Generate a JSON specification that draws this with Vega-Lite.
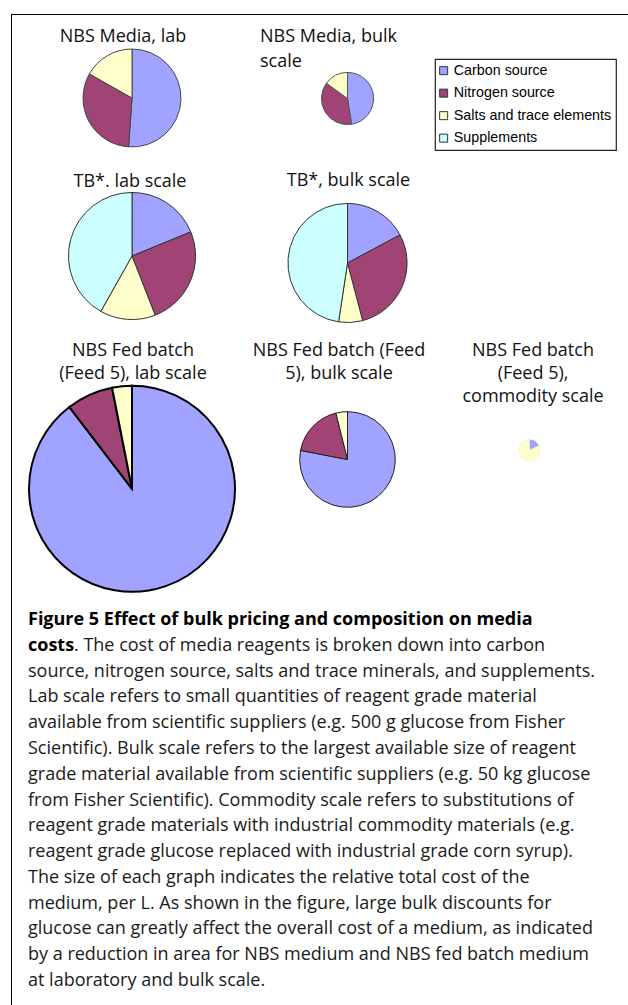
{
  "$schema": "https://vega.github.io/schema/vega-lite/v6.json",
  "padding": {"left": 11, "top": 14, "right": 0, "bottom": 0},
  "background": "white",
  "datasets": {
    "pies": [
      {"medium": "NBS Media", "level": "lab", "component": "Carbon source", "cost": 1.226},
      {"medium": "NBS Media", "level": "lab", "component": "Nitrogen source", "cost": 0.770},
      {"medium": "NBS Media", "level": "lab", "component": "Salts and trace elements", "cost": 0.403},
      {"medium": "NBS Media", "level": "bulk", "component": "Carbon source", "cost": 0.323},
      {"medium": "NBS Media", "level": "bulk", "component": "Nitrogen source", "cost": 0.255},
      {"medium": "NBS Media", "level": "bulk", "component": "Salts and trace elements", "cost": 0.102},
      {"medium": "TB*", "level": "lab", "component": "Carbon source", "cost": 0.76},
      {"medium": "TB*", "level": "lab", "component": "Nitrogen source", "cost": 1.02},
      {"medium": "TB*", "level": "lab", "component": "Salts and trace elements", "cost": 0.57},
      {"medium": "TB*", "level": "lab", "component": "Supplements", "cost": 1.69},
      {"medium": "TB*", "level": "bulk", "component": "Carbon source", "cost": 0.61},
      {"medium": "TB*", "level": "bulk", "component": "Nitrogen source", "cost": 1.02},
      {"medium": "TB*", "level": "bulk", "component": "Salts and trace elements", "cost": 0.23},
      {"medium": "TB*", "level": "bulk", "component": "Supplements", "cost": 1.69},
      {"medium": "NBS Fed batch (Feed 5)", "level": "lab", "component": "Carbon source", "cost": 9.51},
      {"medium": "NBS Fed batch (Feed 5)", "level": "lab", "component": "Nitrogen source", "cost": 0.775},
      {"medium": "NBS Fed batch (Feed 5)", "level": "lab", "component": "Salts and trace elements", "cost": 0.329},
      {"medium": "NBS Fed batch (Feed 5)", "level": "bulk", "component": "Carbon source", "cost": 1.786},
      {"medium": "NBS Fed batch (Feed 5)", "level": "bulk", "component": "Nitrogen source", "cost": 0.414},
      {"medium": "NBS Fed batch (Feed 5)", "level": "bulk", "component": "Salts and trace elements", "cost": 0.089},
      {"medium": "NBS Fed batch (Feed 5)", "level": "commodity", "component": "Carbon source", "cost": 0.02},
      {"medium": "NBS Fed batch (Feed 5)", "level": "commodity", "component": "Salts and trace elements", "cost": 0.089}
    ],
    "caption": [
      {"line": 1, "part": "bold", "text": "Figure 5 Effect of bulk pricing and composition on media"},
      {"line": 2, "part": "bold", "text": "costs"},
      {"line": 2, "part": "cont", "text": ". The cost of media reagents is broken down into carbon"},
      {"line": 3, "part": "normal", "text": "source, nitrogen source, salts and trace minerals, and supplements."},
      {"line": 4, "part": "normal", "text": "Lab scale refers to small quantities of reagent grade material"},
      {"line": 5, "part": "normal", "text": "available from scientific suppliers (e.g. 500 g glucose from Fisher"},
      {"line": 6, "part": "normal", "text": "Scientific). Bulk scale refers to the largest available size of reagent"},
      {"line": 7, "part": "normal", "text": "grade material available from scientific suppliers (e.g. 50 kg glucose"},
      {"line": 8, "part": "normal", "text": "from Fisher Scientific). Commodity scale refers to substitutions of"},
      {"line": 9, "part": "normal", "text": "reagent grade materials with industrial commodity materials (e.g."},
      {"line": 10, "part": "normal", "text": "reagent grade glucose replaced with industrial grade corn syrup)."},
      {"line": 11, "part": "normal", "text": "The size of each graph indicates the relative total cost of the"},
      {"line": 12, "part": "normal", "text": "medium, per L. As shown in the figure, large bulk discounts for"},
      {"line": 13, "part": "normal", "text": "glucose can greatly affect the overall cost of a medium, as indicated"},
      {"line": 14, "part": "normal", "text": "by a reduction in area for NBS medium and NBS fed batch medium"},
      {"line": 15, "part": "normal", "text": "at laboratory and bulk scale."}
    ]
  },
  "spacing": 0,
  "resolve": {"scale": {"theta": "independent"}},
  "hconcat": [
    {
      "width": 1, "height": 991,
      "view": {"fill": "#000", "stroke": null},
      "data": {"values": []},
      "mark": "text"
    },
    {
      "spacing": 0,
      "resolve": {"scale": {"theta": "independent"}},
      "vconcat": [
        {
          "width": 616, "height": 1,
          "view": {"fill": "#000", "stroke": null},
          "data": {"values": []},
          "mark": "text"
        },
        {
          "spacing": 0,
          "resolve": {"scale": {"theta": "independent"}},
          "hconcat": [
            {
              "spacing": 0,
              "bounds": "flush",
              "resolve": {"scale": {"theta": "independent"}},
              "vconcat": [
                {
                  "width": 240, "height": 166,
                  "title": {"text": "NBS Media, lab", "anchor": "middle", "frame": "group", "offset": -31.4, "dx": -9, "font": "Open Sans", "fontSize": 18, "fontWeight": "normal", "color": "#111", "lineHeight": 23},
                  "data": {"name": "pies"},
                  "transform": [{"filter": "datum.medium === 'NBS Media' && datum.level === 'lab'"}, {"joinaggregate": [{"op": "sum", "field": "cost", "as": "total"}]}],
                  "mark": {"type": "arc", "stroke": "#444", "strokeWidth": 1},
                  "encoding": {
                    "theta": {"field": "cost", "type": "quantitative", "stack": true},
                    "radius": {"field": "total", "type": "quantitative", "scale": {"type": "sqrt", "zero": true, "domain": [0, 10.614], "range": [0, 103]}},
                    "color": {"field": "component", "type": "nominal", "scale": {"domain": ["Carbon source", "Nitrogen source", "Salts and trace elements", "Supplements"], "range": ["#A0A3FF", "#9F4474", "#FFFFCC", "#CCFFFF"]}, "legend": {"orient": "none", "legendX": 424, "legendY": 45, "title": null}},
                    "order": {"field": "component", "type": "ordinal"}
                  }
                },
                {
                  "width": 240, "height": 150,
                  "title": {"text": "TB*. lab scale", "anchor": "middle", "frame": "group", "offset": -10.1, "dx": -2, "font": "Open Sans", "fontSize": 18, "fontWeight": "normal", "color": "#111", "lineHeight": 23},
                  "data": {"name": "pies"},
                  "transform": [{"filter": "datum.medium === 'TB*' && datum.level === 'lab'"}, {"joinaggregate": [{"op": "sum", "field": "cost", "as": "total"}]}],
                  "mark": {"type": "arc", "stroke": "#333", "strokeWidth": 1},
                  "encoding": {
                    "theta": {"field": "cost", "type": "quantitative", "stack": true},
                    "radius": {"field": "total", "type": "quantitative", "scale": {"type": "sqrt", "zero": true, "domain": [0, 10.614], "range": [0, 103]}},
                    "color": {"field": "component", "type": "nominal", "scale": {"domain": ["Carbon source", "Nitrogen source", "Salts and trace elements", "Supplements"], "range": ["#A0A3FF", "#9F4474", "#FFFFCC", "#CCFFFF"]}, "legend": {"orient": "none", "legendX": 424, "legendY": 45, "title": null}},
                    "order": {"field": "component", "type": "ordinal"}
                  }
                },
                {
                  "width": 240, "height": 49,
                  "data": {"values": []},
                  "mark": "text"
                },
                {
                  "width": 240, "height": 217.6,
                  "title": {"text": ["NBS Fed batch", "(Feed 5), lab scale"], "anchor": "middle", "frame": "group", "offset": -3.4, "dx": 1, "font": "Open Sans", "fontSize": 18, "fontWeight": "normal", "color": "#111", "lineHeight": 23},
                  "data": {"name": "pies"},
                  "transform": [{"filter": "datum.medium === 'NBS Fed batch (Feed 5)' && datum.level === 'lab'"}, {"joinaggregate": [{"op": "sum", "field": "cost", "as": "total"}]}],
                  "mark": {"type": "arc", "stroke": "#000", "strokeWidth": 2},
                  "encoding": {
                    "theta": {"field": "cost", "type": "quantitative", "stack": true},
                    "radius": {"field": "total", "type": "quantitative", "scale": {"type": "sqrt", "zero": true, "domain": [0, 10.614], "range": [0, 103]}},
                    "color": {"field": "component", "type": "nominal", "scale": {"domain": ["Carbon source", "Nitrogen source", "Salts and trace elements", "Supplements"], "range": ["#A0A3FF", "#9F4474", "#FFFFCC", "#CCFFFF"]}, "legend": {"orient": "none", "legendX": 424, "legendY": 45, "title": null}},
                    "order": {"field": "component", "type": "ordinal"}
                  }
                }
              ]
            },
            {
              "spacing": 0,
              "bounds": "flush",
              "resolve": {"scale": {"theta": "independent"}},
              "vconcat": [
                {
                  "width": 191, "height": 167,
                  "title": {"text": ["NBS Media, bulk", "scale"], "anchor": "start", "align": "left", "frame": "group", "offset": -56.4, "dx": 8, "font": "Open Sans", "fontSize": 18, "fontWeight": "normal", "color": "#111", "lineHeight": 25},
                  "data": {"name": "pies"},
                  "transform": [{"filter": "datum.medium === 'NBS Media' && datum.level === 'bulk'"}, {"joinaggregate": [{"op": "sum", "field": "cost", "as": "total"}]}],
                  "mark": {"type": "arc", "stroke": "#555", "strokeWidth": 1},
                  "encoding": {
                    "theta": {"field": "cost", "type": "quantitative", "stack": true},
                    "radius": {"field": "total", "type": "quantitative", "scale": {"type": "sqrt", "zero": true, "domain": [0, 10.614], "range": [0, 103]}},
                    "color": {"field": "component", "type": "nominal", "scale": {"domain": ["Carbon source", "Nitrogen source", "Salts and trace elements", "Supplements"], "range": ["#A0A3FF", "#9F4474", "#FFFFCC", "#CCFFFF"]}, "legend": {"orient": "none", "legendX": 424, "legendY": 45, "title": null}},
                    "order": {"field": "component", "type": "ordinal"}
                  }
                },
                {
                  "width": 191, "height": 162,
                  "title": {"text": "TB*, bulk scale", "anchor": "middle", "frame": "group", "offset": -8.1, "dx": 1, "font": "Open Sans", "fontSize": 18, "fontWeight": "normal", "color": "#111", "lineHeight": 23},
                  "data": {"name": "pies"},
                  "transform": [{"filter": "datum.medium === 'TB*' && datum.level === 'bulk'"}, {"joinaggregate": [{"op": "sum", "field": "cost", "as": "total"}]}],
                  "mark": {"type": "arc", "stroke": "#333", "strokeWidth": 1},
                  "encoding": {
                    "theta": {"field": "cost", "type": "quantitative", "stack": true},
                    "radius": {"field": "total", "type": "quantitative", "scale": {"type": "sqrt", "zero": true, "domain": [0, 10.614], "range": [0, 103]}},
                    "color": {"field": "component", "type": "nominal", "scale": {"domain": ["Carbon source", "Nitrogen source", "Salts and trace elements", "Supplements"], "range": ["#A0A3FF", "#9F4474", "#FFFFCC", "#CCFFFF"]}, "legend": {"orient": "none", "legendX": 424, "legendY": 45, "title": null}},
                    "order": {"field": "component", "type": "ordinal"}
                  }
                },
                {
                  "width": 191, "height": 231,
                  "title": {"text": ["NBS Fed batch (Feed", "5), bulk scale"], "anchor": "middle", "frame": "group", "offset": -39.4, "dx": -8.5, "font": "Open Sans", "fontSize": 18, "fontWeight": "normal", "color": "#111", "lineHeight": 23},
                  "data": {"name": "pies"},
                  "transform": [{"filter": "datum.medium === 'NBS Fed batch (Feed 5)' && datum.level === 'bulk'"}, {"joinaggregate": [{"op": "sum", "field": "cost", "as": "total"}]}],
                  "mark": {"type": "arc", "stroke": "#222", "strokeWidth": 1},
                  "encoding": {
                    "theta": {"field": "cost", "type": "quantitative", "stack": true},
                    "radius": {"field": "total", "type": "quantitative", "scale": {"type": "sqrt", "zero": true, "domain": [0, 10.614], "range": [0, 103]}},
                    "color": {"field": "component", "type": "nominal", "scale": {"domain": ["Carbon source", "Nitrogen source", "Salts and trace elements", "Supplements"], "range": ["#A0A3FF", "#9F4474", "#FFFFCC", "#CCFFFF"]}, "legend": {"orient": "none", "legendX": 424, "legendY": 45, "title": null}},
                    "order": {"field": "component", "type": "ordinal"}
                  }
                }
              ]
            },
            {
              "spacing": 0,
              "bounds": "flush",
              "resolve": {"scale": {"theta": "independent"}},
              "vconcat": [
                {
                  "width": 173, "height": 305,
                  "data": {"values": []},
                  "mark": "text"
                },
                {
                  "width": 173, "height": 260,
                  "title": {"text": ["NBS Fed batch", "(Feed 5),", "commodity scale"], "anchor": "middle", "frame": "group", "offset": -85.9, "dx": 3.5, "font": "Open Sans", "fontSize": 18, "fontWeight": "normal", "color": "#111", "lineHeight": 23},
                  "data": {"name": "pies"},
                  "transform": [{"filter": "datum.medium === 'NBS Fed batch (Feed 5)' && datum.level === 'commodity'"}, {"joinaggregate": [{"op": "sum", "field": "cost", "as": "total"}]}],
                  "mark": {"type": "arc", "stroke": "#e6e6c0", "strokeWidth": 0.5},
                  "encoding": {
                    "theta": {"field": "cost", "type": "quantitative", "stack": true},
                    "radius": {"field": "total", "type": "quantitative", "scale": {"type": "sqrt", "zero": true, "domain": [0, 10.614], "range": [0, 103]}},
                    "color": {"field": "component", "type": "nominal", "scale": {"domain": ["Carbon source", "Nitrogen source", "Salts and trace elements", "Supplements"], "range": ["#A0A3FF", "#9F4474", "#FFFFCC", "#CCFFFF"]}, "legend": {"orient": "none", "legendX": 424, "legendY": 45, "title": null}},
                    "order": {"field": "component", "type": "ordinal"}
                  }
                }
              ]
            }
          ]
        },
        {
          "width": 600,
          "height": 400,
          "data": {"name": "caption"},
          "encoding": {
            "y": {"field": "line", "type": "ordinal", "scale": {"type": "point", "domain": [1,2,3,4,5,6,7,8,9,10,11,12,13,14,15], "range": [22, 383], "padding": 0}, "axis": null},
            "x": {"value": 16},
            "text": {"field": "text"}
          },
          "layer": [
            {"transform": [{"filter": "datum.part === 'bold'"}], "mark": {"type": "text", "align": "left", "baseline": "middle", "font": "Open Sans", "fontSize": 18, "fontWeight": "bold", "color": "#000"}},
            {"transform": [{"filter": "datum.part === 'normal'"}], "mark": {"type": "text", "align": "left", "baseline": "middle", "font": "Open Sans", "fontSize": 18, "fontWeight": "normal", "color": "#1a1a1a"}},
            {"transform": [{"filter": "datum.part === 'cont'"}], "mark": {"type": "text", "align": "left", "baseline": "middle", "dx": 46, "font": "Open Sans", "fontSize": 18, "fontWeight": "normal", "color": "#1a1a1a"}}
          ]
        }
      ]
    }
  ],
  "config": {
    "view": {"stroke": null},
    "legend": {
      "symbolType": "square",
      "symbolSize": 64,
      "symbolStrokeColor": "#333",
      "symbolStrokeWidth": 1,
      "symbolOpacity": 1,
      "symbolOffset": -3,
      "labelFont": "Liberation Sans",
      "labelFontSize": 14.3,
      "labelColor": "#000",
      "labelOffset": 3,
      "rowPadding": 7.5,
      "padding": 4.5,
      "strokeColor": "#222",
      "strokeWidth": 1.2
    }
  }
}
